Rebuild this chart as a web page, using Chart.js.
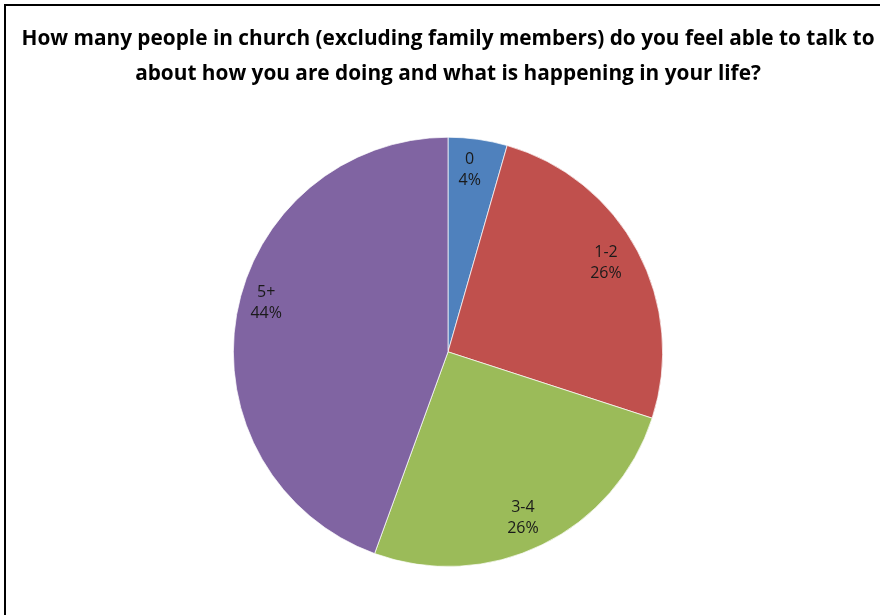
<!DOCTYPE html>
<html>
<head>
<meta charset="utf-8">
<script src="https://cdn.jsdelivr.net/npm/chart.js@4"></script>
<style>
  html, body { margin: 0; padding: 0; background: #fff; }
  #wrap { position: relative; width: 880px; height: 615px; }
</style>
</head>
<body>
<div id="wrap"><canvas id="pie" width="880" height="615"></canvas></div>
<script>
// Dados
const categories = ["0", "1-2", "3-4", "5+"];
const responses = [4, 23, 23, 40];
const percentLabels = ["4%", "26%", "26%", "44%"];
const sliceColors = ["#4F81BD", "#C0504D", "#9BBB59", "#8064A2"];
const titleLines = [
  "How many people in church (excluding family members) do you feel able to talk to",
  "about how you are doing and what is happening in your life?"
];

// Moldura (só esquerda e topo aparecem)
const framePlugin = {
  id: 'frame',
  beforeDraw(chart) {
    const c = chart.ctx;
    c.save();
    c.fillStyle = '#fff';
    c.fillRect(0, 0, chart.width, chart.height);
    c.strokeStyle = '#000';
    c.lineWidth = 2;
    c.strokeRect(5, 5, chart.width + 20, chart.height + 20);
    c.restore();
  }
};

// Rótulos dentro das fatias (pequenos ajustes tipo Excel)
const nudge = [[-4, 0], [-5, -3], [-6, 0], [0, -17]];
const sliceLabels = {
  id: 'sliceLabels',
  afterDatasetsDraw(chart) {
    const c = chart.ctx;
    const meta = chart.getDatasetMeta(0);
    c.save();
    c.font = '16px "Open Sans"';
    c.fillStyle = '#1a1a1a';
    c.textAlign = 'center';
    c.textBaseline = 'middle';
    meta.data.forEach((arc, i) => {
      const p = arc.getProps(['x', 'y', 'startAngle', 'endAngle', 'outerRadius']);
      const mid = (p.startAngle + p.endAngle) / 2;
      const r = p.outerRadius * 0.86;
      const x = p.x + Math.cos(mid) * r + nudge[i][0];
      const y = p.y + Math.sin(mid) * r + nudge[i][1];
      c.fillText(categories[i], x, y - 10);
      c.fillText(percentLabels[i], x, y + 11);
    });
    c.restore();
  }
};

const ctx = document.getElementById('pie').getContext('2d');
new Chart(ctx, {
  type: 'pie',
  data: {
    labels: categories,
    datasets: [{
      data: responses,
      backgroundColor: sliceColors,
      borderColor: 'rgba(255,255,255,0.7)',
      borderWidth: 1
    }]
  },
  options: {
    responsive: false,
    animation: false,
    layout: { padding: { left: 16, right: 0, top: 0, bottom: 48 } },
    plugins: {
      legend: { display: false },
      tooltip: { enabled: false },
      title: {
        display: true,
        text: titleLines,
        color: '#000',
        font: { family: '"Open Sans"', size: 20.8, weight: 'bold', lineHeight: 1.7 },
        padding: { top: 21, bottom: 45 }
      }
    }
  },
  plugins: [framePlugin, sliceLabels]
});
</script>
</body>
</html>
